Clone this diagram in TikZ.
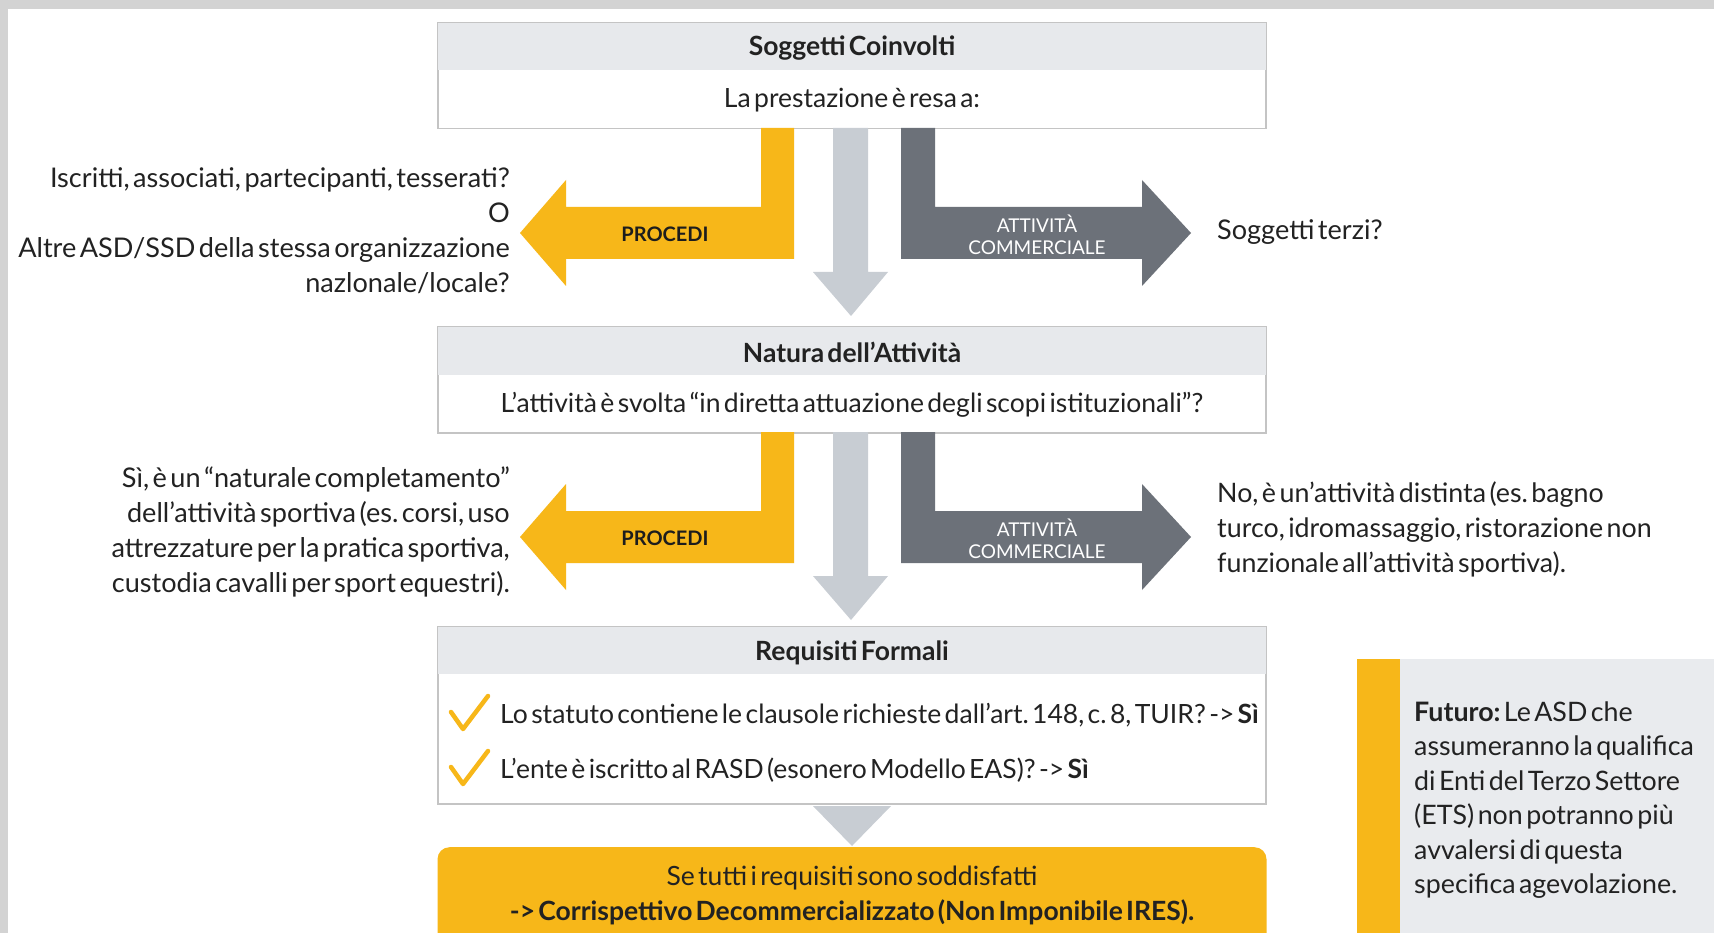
\documentclass[tikz,border=0pt]{standalone}
\usepackage{fontspec}
\setmainfont{Lato}[WordSpace=0.5]
\frenchspacing
\usetikzlibrary{calc}
\definecolor{amber}{HTML}{F7B719}
\definecolor{slate}{HTML}{6C7179}
\definecolor{pale}{HTML}{C8CDD3}
\definecolor{hdr}{HTML}{E7E9EC}
\definecolor{framec}{HTML}{C4C4C4}
\definecolor{ink}{HTML}{222222}
\definecolor{panelbg}{HTML}{E9EBEE}
\definecolor{outer}{HTML}{D3D3D3}
\tikzset{
  boxframe/.style={draw=framec, line width=1.5pt, fill=white, minimum width=828pt, inner sep=0pt, anchor=north},
  txt/.style={font=\fontsize{26.5}{35}\selectfont, text=ink, inner sep=0pt},
  sidetxt/.style={font=\fontsize{27.1}{35}\selectfont, text=ink, inner sep=0pt},
  title/.style={font=\bfseries\fontsize{26.5}{30}\selectfont, text=ink, inner sep=0pt},
  tagd/.style={font=\bfseries\fontsize{20}{24}\selectfont, text=ink!85!black, inner sep=0pt},
  tagw/.style={font=\fontsize{19}{22}\selectfont, text=white, align=center, inner sep=0pt},
  checkmk/.style={draw=amber, line width=4.5pt, line cap=round, line join=round},
}
\begin{document}
\begin{tikzpicture}[x=1pt,y=-1pt]
\useasboundingbox (0,0) rectangle (1714,933);
\clip (0,0) rectangle (1714,933);
\fill[outer] (0,0) rectangle (1714,933);
\fill[white] (8,9) rectangle (1714,933);

% ---- box 1
\node[boxframe, minimum height=106pt] (b1) at (852,22) {};
\fill[hdr] ($(b1.north west)+(1,1)$) rectangle ($(b1.north east)+(-1,48)$);
\node[title] (b1t) at ($(b1.north)+(0,26)$) {Soggetti Coinvolti};
\node[txt] (b1s) at ($(b1.north)+(0,78)$) {La prestazione è resa a:};

% ---- box 2
\node[boxframe, minimum height=106pt] (b2) at (852,326) {};
\fill[hdr] ($(b2.north west)+(1,1)$) rectangle ($(b2.north east)+(-1,49)$);
\node[title] (b2t) at ($(b2.north)+(0,26)$) {Natura dell'Attività};
\node[txt] (b2s) at ($(b2.north)+(0,79)$) {L’attività è svolta “in diretta attuazione degli scopi istituzionali”?};

% ---- arrow rows
\foreach \o/\n in {0/1,304/2}{
\begin{scope}[shift={(0,\o)}]
  \fill[amber] (794,128) -- (794,259) -- (566,259) -- (566,286) -- (520,233) -- (566,180) -- (566,207) -- (761,207) -- (761,128) -- cycle;
  \fill[pale] (833,128) -- (833,272) -- (813,272) -- (851,316) -- (888,272) -- (868,272) -- (868,128) -- cycle;
  \fill[slate] (901,128) -- (901,259) -- (1142,259) -- (1142,286) -- (1191,233) -- (1142,180) -- (1142,207) -- (935,207) -- (935,128) -- cycle;
  \node[tagd] (pro\n) at (665,234) {PROCEDI};
  \node[tagw] (com\n) at (1037,235) {ATTIVITÀ\\COMMERCIALE};
\end{scope}
}

% ---- side texts row 1
\node[sidetxt, align=right, anchor=east] (l1) at (510,231)
  {Iscritti, associati, partecipanti, tesserati?\\O\\Altre ASD/SSD della stessa organizzazione\\nazlonale/locale?};
\node[sidetxt, anchor=west] (r1) at (1217,232) {Soggetti terzi?};

% ---- side texts row 2
\node[sidetxt, align=right, anchor=east] (l2) at (510,532)
  {Sì, è un “naturale completamento”\\dell’attività sportiva (es. corsi, uso\\attrezzature per la pratica sportiva,\\custodia cavalli per sport equestri).};
\node[txt, align=left, anchor=west, font=\fontsize{26.8}{35}\selectfont] (r2) at (1217,529)
  {No, è un’attività distinta (es. bagno\\turco, idromassaggio, ristorazione non\\funzionale all’attività sportiva).};

% ---- box 3
\node[boxframe, minimum height=177pt] (b3) at (852,626) {};
\fill[hdr] ($(b3.north west)+(1,1)$) rectangle ($(b3.north east)+(-1,48)$);
\node[title] (b3t) at ($(b3.north)+(0,27)$) {Requisiti Formali};
\draw[checkmk] (451,712) -- (463,729) -- (488,696);
\draw[checkmk] (451,767) -- (463,784) -- (488,751);
\node[txt, anchor=west] (c1) at (500,715) {Lo statuto contiene le clausole richieste dall'art. 148, c. 8, TUIR? -> \textbf{Sì}};
\node[txt, anchor=west] (c2) at (500,770) {L'ente è iscritto al RASD (esonero Modello EAS)? -> \textbf{Sì}};

% ---- down triangle
\coordinate (tri) at (852,846);
\fill[pale] (813,806) -- (tri) -- (891,806) -- cycle;

% ---- result box
\node[draw=none, fill=amber, rounded corners=12pt, minimum width=829pt, minimum height=110pt, anchor=north] (res) at (852,847) {};
\node[txt, align=center] (rest) at (852,895)
  {Se tutti i requisiti sono soddisfatti\\\textbf{-> Corrispettivo Decommercializzato (Non Imponibile IRES).}};

% ---- future panel
\fill[amber] (1357,659) rectangle (1400,945);
\fill[panelbg] (1400,659) rectangle (1714,945);
\node[txt, align=left, anchor=west, font=\fontsize{26.8}{34.5}\selectfont] (fut) at (1414,800)
  {\textbf{Futuro:} Le ASD che\\assumeranno la qualifica\\di Enti del Terzo Settore\\(ETS) non potranno più\\avvalersi di questa\\specifica agevolazione.};
\end{tikzpicture}
\end{document}
